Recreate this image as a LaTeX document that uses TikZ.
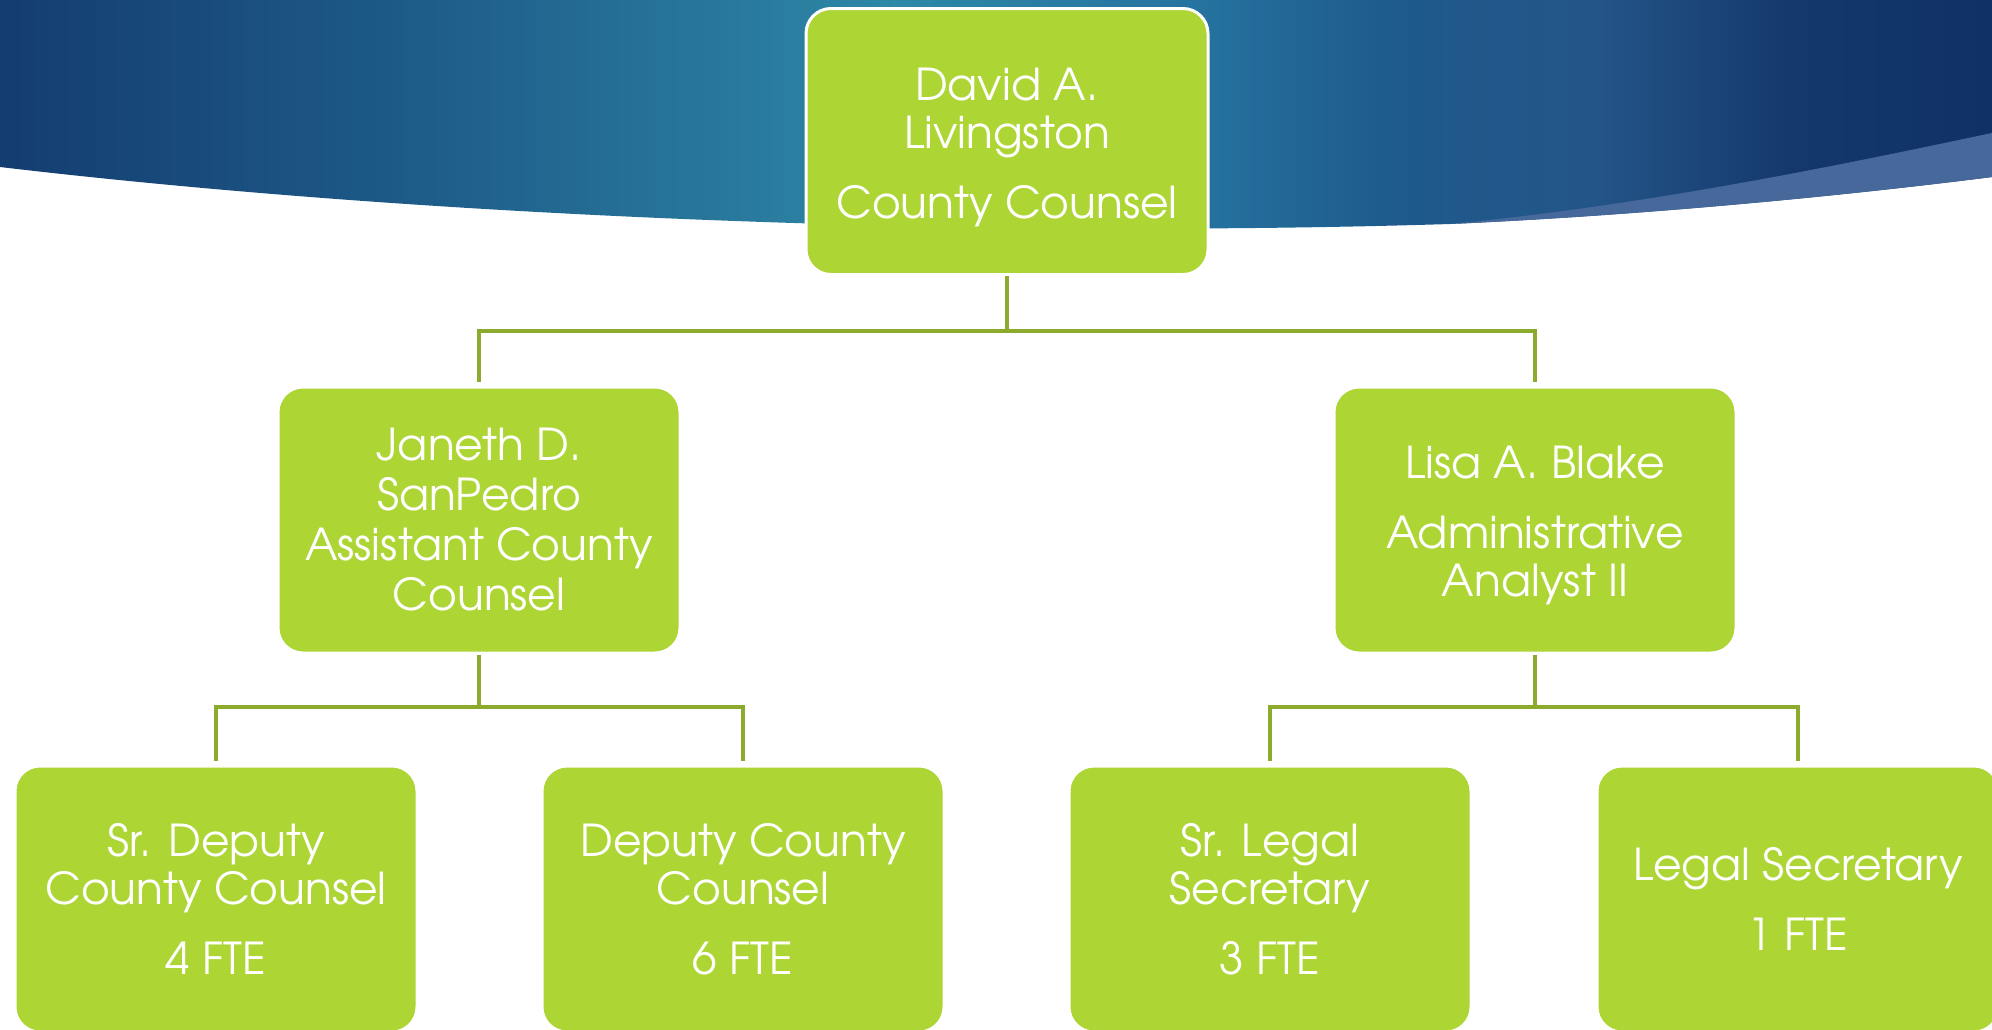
\documentclass[tikz,border=0pt]{standalone}
\usepackage{fontspec}
\IfFontExistsTF{TeX Gyre Adventor}{\setmainfont{TeX Gyre Adventor}}{\setmainfont{Poppins}}
\definecolor{boxgreen}{HTML}{ADD534}
\definecolor{conngreen}{HTML}{8CAB2D}
\definecolor{bandblue}{HTML}{46689A}
\definecolor{bgA}{HTML}{143D70}
\definecolor{bgB}{HTML}{1D5A88}
\definecolor{bgC}{HTML}{2E88A6}
\definecolor{bgD}{HTML}{2573A0}
\definecolor{bgE}{HTML}{1E5A8C}
\definecolor{bgF}{HTML}{245588}
\definecolor{bgG}{HTML}{14386C}
\definecolor{bgH}{HTML}{0F3166}
\pgfdeclarehorizontalshading{bgshade}{100bp}{color(0bp)=(bgA); color(25bp)=(bgA); color(35bp)=(bgB); color(47.5bp)=(bgC); color(55bp)=(bgD); color(60bp)=(bgE); color(65bp)=(bgF); color(70bp)=(bgG); color(75bp)=(bgH); color(100bp)=(bgH)}
\tikzset{
  orgbox/.style={draw=white, line width=1.5pt, fill=boxgreen, rounded corners=12.5pt,
    minimum width=201pt, minimum height=133pt, text=white, align=center,
    font=\fontsize{22}{24}\selectfont, inner sep=0pt},
  boxtext/.style={text=white, align=center, font=\fontsize{22}{24}\selectfont, inner sep=0pt},
  conn/.style={draw=conngreen, line width=2pt}
}
\begin{document}
\begin{tikzpicture}[x=0.5pt,y=-0.5pt]
\clip (0,0) rectangle (1992,1029);
\fill[white] (0,0) rectangle (1992,1029);
% background swoosh
\shade[shading=bgshade] (0,0) -- (1992,0) -- (1992,177)
  .. controls (1850,195) and (1650,215) .. (1450,224)
  .. controls (1000,238) and (450,220) .. (0,167) -- cycle;
\fill[bandblue] (1450,224) .. controls (1650,215) and (1850,195) .. (1992,177)
  -- (1992,133) .. controls (1850,163) and (1650,205) .. (1450,224) -- cycle;
% boxes
\node[orgbox] (top) at (1007,141.5) {};
\node[boxtext] (toptext) at ([yshift=-3pt]top.center) {David A.\\Livingston\\[11pt]County Counsel};
\node[orgbox, font=\fontsize{22}{25}\selectfont] (jan) at (479,520) {Janeth D.\\SanPedro\\Assistant County\\Counsel};
\node[orgbox] (lisa) at (1535,520) {};
\node[boxtext] (lisatext) at ([yshift=-2.5pt]lisa.center) {Lisa A. Blake\\[11pt]Administrative\\Analyst II};
\node[orgbox] (sdc) at (216,899) {Sr. Deputy\\County Counsel\\[11pt]4 FTE};
\node[orgbox] (dc) at (743,899) {Deputy County\\Counsel\\[11pt]6 FTE};
\node[orgbox] (sls) at (1270,899) {Sr. Legal\\Secretary\\[11pt]3 FTE};
\node[orgbox] (ls) at (1798,899) {Legal Secretary\\[11pt]1 FTE};
% connectors
\coordinate (bar1) at (1007,331);
\coordinate (bar2) at (479,707);
\coordinate (bar3) at (1535,707);
\draw[conn] (top.south) -- (bar1);
\draw[conn] ([yshift=2pt]jan.north) |- (bar1) -| ([yshift=2pt]lisa.north);
\draw[conn] (jan.south) -- (bar2);
\draw[conn] ([yshift=2pt]sdc.north) |- (bar2) -| ([yshift=2pt]dc.north);
\draw[conn] (lisa.south) -- (bar3);
\draw[conn] ([yshift=2pt]sls.north) |- (bar3) -| ([yshift=2pt]ls.north);
\end{tikzpicture}
\end{document}
